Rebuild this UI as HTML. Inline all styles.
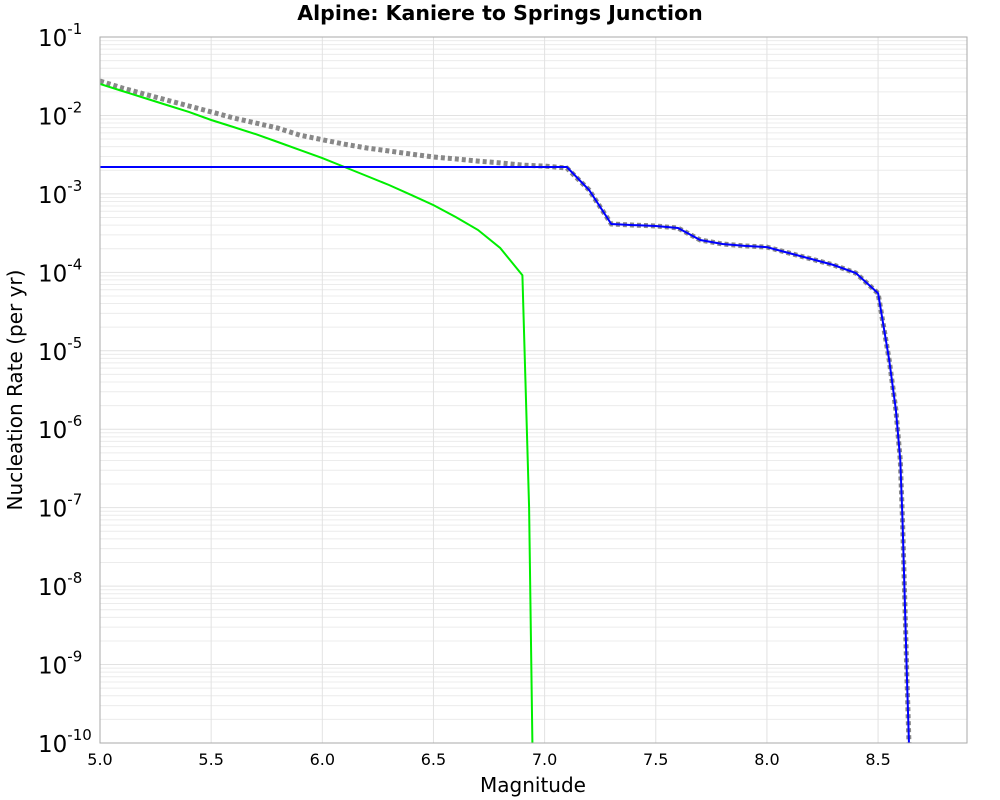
<!DOCTYPE html>
<html><head><meta charset="utf-8"><style>
html,body{margin:0;padding:0;background:#fff;}
svg{display:block;font-family:"DejaVu Sans","Liberation Sans",sans-serif;}
</style></head><body>
<svg id="chart" width="1000" height="800" viewBox="0 0 1000 800" xmlns="http://www.w3.org/2000/svg">
<text x="500" y="20" text-anchor="middle" font-size="20.5" font-weight="bold">Alpine: Kaniere to Springs Junction</text>
<g id="grid"></g>
<g id="series"></g>
<rect x="100" y="37" width="867" height="706" fill="none" stroke="#aaa" stroke-width="1"/>
<g id="yticks"></g>
<g id="xticks"></g>
<text x="533" y="792" text-anchor="middle" font-size="20">Magnitude</text>
<text transform="translate(22,390) rotate(-90)" text-anchor="middle" font-size="20">Nucleation Rate (per yr)</text>
</svg>
<script>
const xTicks = [5.0, 5.5, 6.0, 6.5, 7.0, 7.5, 8.0, 8.5];
const yExps = [-1, -2, -3, -4, -5, -6, -7, -8, -9, -10];

const greenMag = [5.0,5.1,5.2,5.3,5.4,5.5,5.6,5.7,5.8,5.9,6.0,6.1,6.2,6.3,6.4,6.5,6.6,6.7,6.8,6.9,6.93,6.95];
const greenRate = [2.52e-2,2.05e-2,1.67e-2,1.36e-2,1.11e-2,8.75e-3,7.13e-3,5.79e-3,4.58e-3,3.62e-3,2.86e-3,2.2e-3,1.69e-3,1.30e-3,9.7e-4,7.2e-4,5.07e-4,3.47e-4,2.04e-4,9.2e-5,1e-7,1e-11];

const blueMag = [5.0,7.1,7.2,7.3,7.4,7.5,7.6,7.7,7.8,7.9,8.0,8.1,8.2,8.3,8.4,8.5,8.55,8.58,8.6,8.61,8.62,8.63,8.64,8.65];
const blueRate = [2.2e-3,2.2e-3,1.12e-3,4.13e-4,4.0e-4,3.9e-4,3.67e-4,2.58e-4,2.3e-4,2.17e-4,2.1e-4,1.76e-4,1.48e-4,1.24e-4,9.8e-5,5.4e-5,7.6e-6,1.76e-6,4.0e-7,7.0e-8,6.6e-9,6.4e-10,8e-11,1e-11];

const totalMag = [5.0,5.1,5.2,5.3,5.4,5.5,5.6,5.7,5.8,5.9,6.0,6.1,6.2,6.3,6.4,6.5,6.6,6.7,6.8,6.9,7.0,7.1,7.2,7.3,7.4,7.5,7.6,7.7,7.8,7.9,8.0,8.1,8.2,8.3,8.4,8.5,8.55,8.58,8.6,8.61,8.62,8.63,8.64,8.65];
const totalRate = [2.75e-2,2.24e-2,1.87e-2,1.57e-2,1.32e-2,1.11e-2,9.3e-3,8.0e-3,6.9e-3,5.6e-3,4.9e-3,4.3e-3,3.85e-3,3.52e-3,3.22e-3,2.95e-3,2.79e-3,2.62e-3,2.48e-3,2.33e-3,2.26e-3,2.14e-3,1.12e-3,4.13e-4,4.0e-4,3.9e-4,3.67e-4,2.58e-4,2.3e-4,2.17e-4,2.1e-4,1.76e-4,1.48e-4,1.24e-4,9.8e-5,5.4e-5,7.6e-6,1.76e-6,4.0e-7,7.0e-8,6.6e-9,6.4e-10,8e-11,1e-11];

const X0=100, X1=967, Y0=37, Y1=743, XMIN=5.0, XMAX=8.9, LMAX=-1, LMIN=-10;
const NS="http://www.w3.org/2000/svg";
function xs(m){return X0+(m-XMIN)/(XMAX-XMIN)*(X1-X0);}
function ys(v){return Y0+(LMAX-Math.log10(v))/(LMAX-LMIN)*(Y1-Y0);}
function mk(tag,attrs,parent){const e=document.createElementNS(NS,tag);for(const k in attrs)e.setAttribute(k,attrs[k]);parent.appendChild(e);return e;}

const grid=document.getElementById('grid');
for(let e=-10;e<-1;e++){
  for(let k=2;k<=9;k++){
    const y=ys(k*Math.pow(10,e));
    const ln=mk('line',{x1:X0,x2:X1,y1:y,y2:y,stroke:'#ececec','stroke-width':1},grid);
    
    
  }
}
yExps.forEach(e=>{
  const y=ys(Math.pow(10,e));
  const ln=mk('line',{x1:X0,x2:X1,y1:y,y2:y,stroke:'#e2e2e2','stroke-width':1},grid);
  
  
});
xTicks.forEach(t=>{
  const x=xs(t);
  const ln=mk('line',{x1:x,x2:x,y1:Y0,y2:Y1,stroke:'#e2e2e2','stroke-width':1},grid);
  
  
});

const yt=document.getElementById('yticks');
yExps.forEach(e=>{
  const y=ys(Math.pow(10,e));
  const t=mk('text',{x:38,y:y+9,'text-anchor':'start','font-size':23},yt);
  
  
  t.textContent='10';
  const s=mk('tspan',{dy:-12,'font-size':15},t);
  s.textContent=String(e);
});
const xt=document.getElementById('xticks');
xTicks.forEach(v=>{
  const t=mk('text',{x:xs(v),y:765,'text-anchor':'middle','font-size':16},xt);
  
  
  t.textContent=v.toFixed(1);
});

const ser=document.getElementById('series');
const clip=mk('clipPath',{id:'pc'},ser);
mk('rect',{x:X0,y:Y0,width:X1-X0,height:Y1-Y0},clip);
function pts(ms,rs){return ms.map((m,i)=>xs(m).toFixed(1)+','+ys(rs[i]).toFixed(1)).join(' ');}
const tot=mk('polyline',{points:pts(totalMag,totalRate),fill:'none',stroke:'#888','stroke-width':5,'stroke-dasharray':'4,3','clip-path':'url(#pc)'},ser);


const gr=mk('polyline',{points:pts(greenMag,greenRate),fill:'none',stroke:'#00ee00','stroke-width':2,'clip-path':'url(#pc)'},ser);


const bl=mk('polyline',{points:pts(blueMag,blueRate),fill:'none',stroke:'#0000ff','stroke-width':2,'clip-path':'url(#pc)'},ser);


</script>
</body></html>
